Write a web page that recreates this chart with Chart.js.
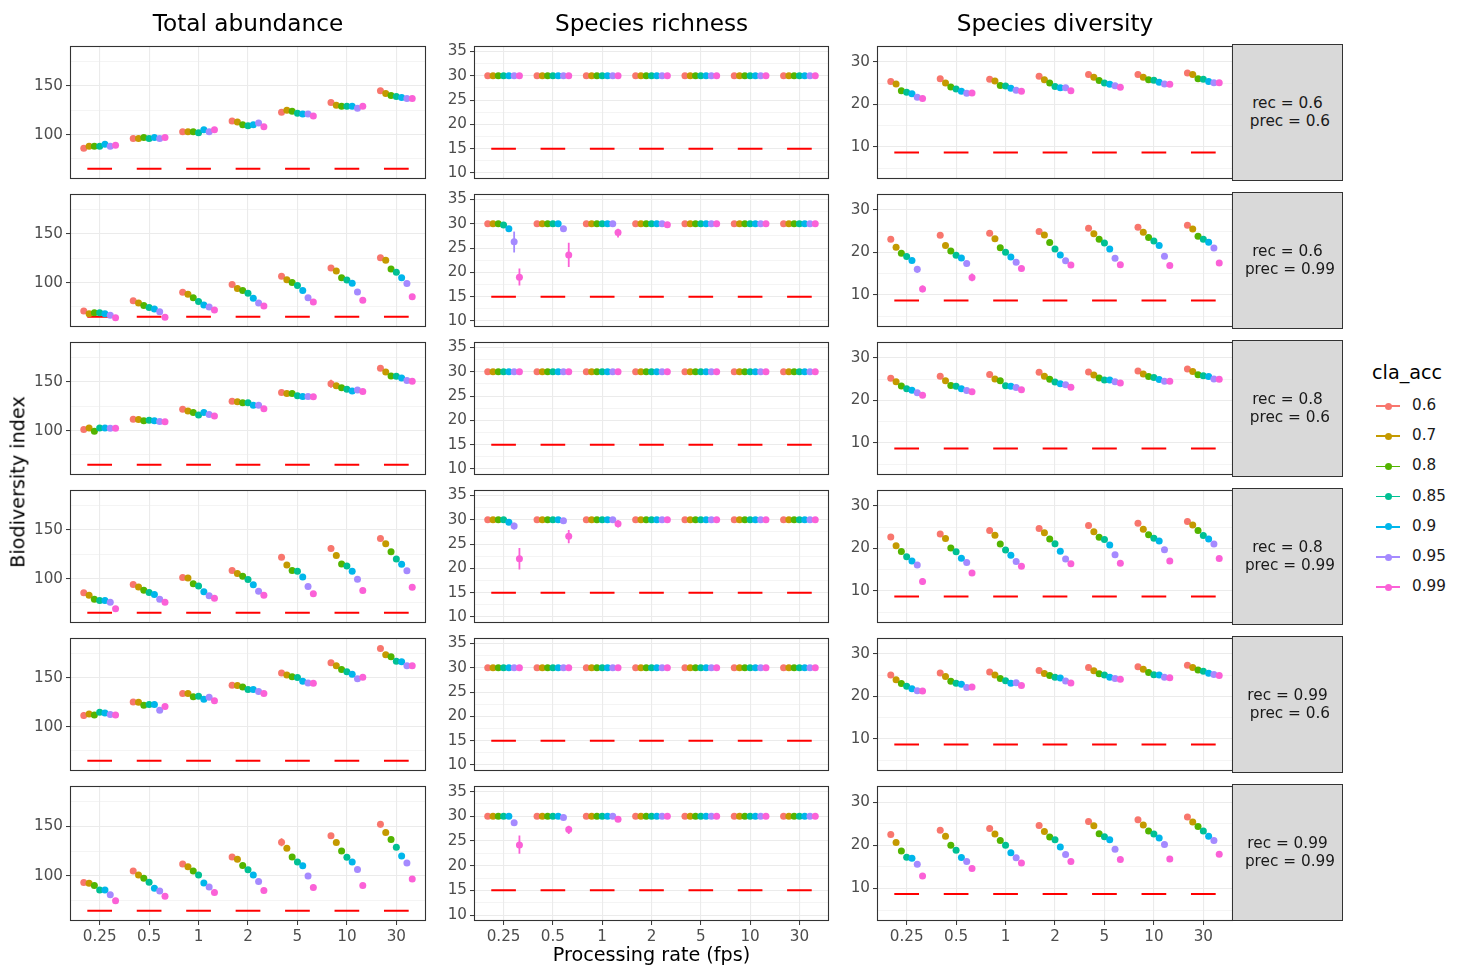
<!DOCTYPE html>
<html><head><meta charset="utf-8">
<script src="https://cdn.jsdelivr.net/npm/chart.js@4/dist/chart.umd.min.js"></script>
<style>
html,body{margin:0;padding:0;background:#fff;}
body{width:1460px;height:966px;position:relative;overflow:hidden;font-family:"DejaVu Sans",sans-serif;}
canvas{position:absolute;}
.t{position:absolute;white-space:pre;line-height:1;}
.strip{position:absolute;box-sizing:border-box;background:#D9D9D9;border:1px solid #333;display:flex;align-items:center;justify-content:center;font-size:15.3px;color:#1A1A1A;text-align:center;white-space:pre;line-height:17.5px;}
</style></head><body>
<script>
// ---------------- DATA ----------------
const rates = ['0.25','0.5','1','2','5','10','30'];
const claAcc = ['0.6','0.7','0.8','0.85','0.9','0.95','0.99'];
const recLabels  = ['0.6','0.6','0.8','0.8','0.99','0.99'];
const precLabels = ['0.6','0.99','0.6','0.99','0.6','0.99'];
const metricTitles = ['Total abundance','Species richness','Species diversity'];
const trueAbundance = 65;
const trueRichness = 15;
const trueDiversity = 8.7;
const abundanceTicks = [75,100,125,150,175];
const abundanceLabeled = [100,150];
const richnessTicks = [10,12.5,15,17.5,20,22.5,25,27.5,30,32.5,35];
const richnessLabeled = [10,15,20,25,30,35];
const diversityTicks = [5,10,15,20,25,30];
const diversityLabeled = [10,20,30];

// rows: processing rate; columns: cla_acc 0.6 .. 0.99
const abund_r06_p06 = [
 [86,88,88,88,90,88,89],
 [96,96,97,96,97,96,97],
 [103,103,103,102,105,103,105],
 [114,113,110,109,110,112,108],
 [123,125,124,122,121,121,119],
 [133,130,129,129,129,127,129],
 [145,142,140,139,138,137,137]];
const abund_r06_p099 = [
 [71,68,69,69,68,66.5,64],
 [81.5,79,76.5,74.5,73,70,64.5],
 [90,88,84.5,80.5,77,75,72],
 [98,94,92,89,84,79,76],
 [106.6,103,100,97,92,84.5,80],
 [115,112,105,102.6,99.3,90.4,82],
 [125.5,123,114,110.6,105,99,85.4]];
const abund_r08_p06 = [
 [101,102.6,99.3,102.6,102.6,102.3,102.3],
 [111.6,111.3,110,110.6,110,109.3,109],
 [122,120,118.5,116,118.5,116.5,115],
 [130,129.5,128.5,128.5,126,126,122.5],
 [139,138,138,135.7,135,135,134.8],
 [148,146,144,142.4,140.7,141.7,140],
 [164,160,156,155.6,154,151.3,150.7]];
const abund_r08_p099 = [
 [85.4,83,78.8,77.5,77.5,75.8,69],
 [94,91.4,88,85.8,83.8,78.8,75.8],
 [101,100.7,94.7,92.4,86.4,82.5,79.8],
 [108.3,105.3,102.3,99,93.7,87,83],
 [121.9,114,108.3,107.6,101.7,92,84.4],
 [130.8,123.8,115,113,107.6,99.3,87.7],
 [141,135.8,127.5,120,114.6,108,91]];
const abund_r099_p06 = [
 [111.5,113,112,114.8,114,112.5,112],
 [125.3,125,122,122.7,122.7,116.8,120.7],
 [134,134,130.6,131,128,130,126.6],
 [142.4,142,140.5,138,138,136,134],
 [155,153,151,150.3,146.4,144.7,144.4],
 [165.5,162.4,158.6,156.3,153.6,149,150.6],
 [180,173.7,171.7,167,166.4,162.5,162.5]];
const abund_r099_p099 = [
 [93.4,92.7,90.4,85.8,85.8,81,75],
 [105,101,97.7,93.7,87.7,84.8,79.5],
 [112,109.3,105,101,93,89,83.4],
 [119.2,117,110.6,106.3,101,94.4,85.4],
 [134,128,119.2,114.2,110.3,100,88.4],
 [140.7,133.8,125.2,118.9,114.2,106.6,90.4],
 [152.3,144,136.8,129,120.2,113,97]];

const rich_r06_p06 = [
 [30,30,30,30,30,30,30],[30,30,30,30,30,30,30],[30,30,30,30,30,30,30],
 [30,30,30,30,30,30,30],[30,30,30,30,30,30,30],[30,30,30,30,30,30,30],[30,30,30,30,30,30,30]];
const rich_r06_p099 = [
 [30,30,30,29.75,29.0,26.3,19.0],
 [30,30,30,30,30,29.0,23.6],
 [30,30,30,30,30,30,28.2],
 [30,30,30,30,30,30,29.8],
 [30,30,30,30,30,30,30],[30,30,30,30,30,30,30],[30,30,30,30,30,30,30]];
const rich_r08_p06 = [
 [30,30,30,30,30,30,30],[30,30,30,30,30,30,30],[30,30,30,30,30,30,30],
 [30,30,30,30,30,30,30],[30,30,30,30,30,30,30],[30,30,30,30,30,30,30],[30,30,30,30,30,30,30]];
const rich_r08_p099 = [
 [30,30,30,30,29.5,28.7,22.0],
 [30,30,30,30,30,29.8,26.6],
 [30,30,30,30,30,30,29.2],
 [30,30,30,30,30,30,30],
 [30,30,30,30,30,30,30],[30,30,30,30,30,30,30],[30,30,30,30,30,30,30]];
const rich_r099_p06 = [
 [30,30,30,30,30,30,30],[30,30,30,30,30,30,30],[30,30,30,30,30,30,30],
 [30,30,30,30,30,30,30],[30,30,30,30,30,30,30],[30,30,30,30,30,30,30],[30,30,30,30,30,30,30]];
const rich_r099_p099 = [
 [30,30,30,30,30,28.7,24.2],
 [30,30,30,30,30,29.75,27.3],
 [30,30,30,30,30,30,29.4],
 [30,30,30,30,30,30,30],
 [30,30,30,30,30,30,30],[30,30,30,30,30,30,30],[30,30,30,30,30,30,30]];

const div_r06_p06 = [
 [25.4,24.8,23.2,22.85,22.5,21.7,21.4],
 [26.0,25.05,24.1,23.6,23.1,22.6,22.7],
 [25.9,25.5,24.45,24.3,23.8,23.3,23.1],
 [26.6,25.8,25.0,24.2,23.9,23.9,23.2],
 [27.0,26.35,25.6,25.05,24.75,24.4,24.0],
 [27.0,26.4,25.8,25.7,25.2,24.8,24.75],
 [27.4,27.0,26.0,25.9,25.4,25.1,25.1]];
const div_r06_p099 = [
 [23.1,21.2,19.8,19.0,18.1,16.0,11.4],
 [24.0,21.6,20.3,19.3,18.7,17.4,14.1],
 [24.5,23.2,21.1,20.0,18.9,17.7,16.2],
 [24.9,24.1,22.3,20.8,19.35,18.0,17.0],
 [25.7,24.4,23.1,22.2,20.8,18.6,17.1],
 [25.9,24.75,23.5,22.7,21.6,19.1,16.9],
 [26.4,25.5,23.8,23.1,22.4,21.0,17.5]];
const div_r08_p06 = [
 [25.2,24.35,23.35,22.75,22.35,21.8,21.2],
 [25.65,24.6,23.5,23.3,22.75,22.3,22.05],
 [26.1,25.05,24.6,23.45,23.3,23.05,22.5],
 [26.6,25.7,24.95,24.3,23.9,23.7,23.1],
 [26.7,25.95,25.25,24.8,24.8,24.35,24.1],
 [26.9,26.2,25.6,25.35,24.9,24.5,24.5],
 [27.4,26.8,26.0,25.8,25.6,25.0,24.95]];
const div_r08_p099 = [
 [22.7,20.6,19.25,18.0,17.05,16.1,12.2],
 [23.4,22.3,20.1,19.2,17.7,16.65,14.2],
 [24.2,23.1,21.0,19.6,18.4,16.9,15.8],
 [24.7,23.7,22.2,21.1,19.3,17.5,16.4],
 [25.4,23.9,22.6,22.1,20.8,18.5,16.5],
 [25.9,24.5,23.2,22.35,21.75,19.7,17.0],
 [26.3,25.5,24.2,23.0,22.2,21.0,17.6]];
const div_r099_p06 = [
 [25.05,23.9,23.0,22.4,21.8,21.3,21.25],
 [25.5,24.7,23.55,23.1,22.85,22.1,22.2],
 [25.75,25.05,24.2,23.7,23.1,23.2,22.55],
 [26.1,25.4,24.9,24.5,24.3,23.6,23.15],
 [26.8,26.05,25.3,25.0,24.5,24.2,24.05],
 [26.95,26.4,25.6,25.1,25.0,24.5,24.35],
 [27.3,26.8,26.2,25.9,25.45,25.15,24.9]];
const div_r099_p099 = [
 [22.5,20.65,18.7,17.25,17.0,15.6,12.9],
 [23.5,22.1,20.0,18.85,17.2,16.25,14.6],
 [23.9,22.6,21.1,20.0,18.25,17.1,15.9],
 [24.6,23.2,21.9,21.3,19.6,17.85,16.25],
 [25.5,24.5,22.7,22.0,21.3,19.1,16.7],
 [25.9,24.7,23.3,22.6,21.7,20.2,16.8],
 [26.55,25.4,24.35,23.3,22.1,21.1,17.9]];

// [metricIndex, facetRow, rateIndex, claAccIndex, low, high]
const errorBars = [
 [0,2,5,0,144,152],[0,3,5,0,128,134],[0,4,0,0,108,115],[0,5,4,0,130,138],[0,5,6,0,149,155],
 [1,1,0,5,24.1,28.4],[1,1,0,6,17.3,20.8],[1,1,1,6,21.1,26.1],[1,1,2,6,27.2,29.0],
 [1,3,0,5,28.0,29.4],[1,3,0,6,19.8,24.2],[1,3,1,6,25.2,27.9],[1,3,2,6,28.4,29.9],
 [1,5,0,5,28.2,29.2],[1,5,0,6,22.4,26.1],[1,5,1,6,26.4,28.1],
 [2,1,0,5,15.2,16.8],[2,1,0,6,10.6,12.2],[2,1,1,6,13.2,15.0],
 [2,3,0,6,11.4,13.0]
];

const abundanceRows = [abund_r06_p06,abund_r06_p099,abund_r08_p06,abund_r08_p099,abund_r099_p06,abund_r099_p099];
const richnessRows  = [rich_r06_p06,rich_r06_p099,rich_r08_p06,rich_r08_p099,rich_r099_p06,rich_r099_p099];
const diversityRows = [div_r06_p06,div_r06_p099,div_r08_p06,div_r08_p099,div_r099_p06,div_r099_p099];

// ---------------- STYLE / LAYOUT ----------------
const colors = ['#F8766D','#C49A00','#53B400','#00C094','#00B6EB','#A58AFF','#FB61D7'];
const colLeft = [70, 474, 877];
const panelW = [356, 355, 356];
const rowTop = [44, 192, 340, 488, 636, 784];
const panelH = 137;
const dodgeWidth = 0.75;
const FONT = '"DejaVu Sans", sans-serif';
const TICK_SIZE = 15.2;
Chart.defaults.font.family = FONT;

const metrics = [
  {rows: abundanceRows, truth: trueAbundance, min: 54.6, max: 190.7, ticks: abundanceTicks, labeled: abundanceLabeled},
  {rows: richnessRows,  truth: trueRichness,  min: 8.8,  max: 36.1,  ticks: richnessTicks,  labeled: richnessLabeled},
  {rows: diversityRows, truth: trueDiversity, min: 2.47, max: 33.7,  ticks: diversityTicks, labeled: diversityLabeled}
];

const borderPlugin = {
  id: 'panelBorder',
  afterDatasetsDraw(chart) {
    const a = chart.chartArea, c = chart.ctx;
    c.save();
    c.strokeStyle = '#333333';
    c.lineWidth = 1.1;
    c.strokeRect(Math.round(a.left) + 0.5, Math.round(a.top) + 0.5,
                 Math.round(a.right - a.left) - 1, Math.round(a.bottom - a.top) - 1);
    c.restore();
  }
};

function dodge(s) { return (s - (claAcc.length - 1) / 2) * dodgeWidth / claAcc.length; }

function makePanel(col, row) {
  const m = metrics[col];
  const values = m.rows[row];
  const isBottom = row === rowTop.length - 1;
  const padL = 50, padT = 10, padR = 8, padB = isBottom ? 32 : 10;
  const cv = document.createElement('canvas');
  cv.width = panelW[col] + padL + padR;
  cv.height = panelH + padT + padB;
  cv.style.left = (colLeft[col] - padL) + 'px';
  cv.style.top = (rowTop[row] - padT) + 'px';
  document.body.appendChild(cv);

  const datasets = [];
  claAcc.forEach((acc, s) => {
    datasets.push({
      type: 'scatter',
      label: acc,
      data: rates.map((r, i) => ({x: i + 1 + dodge(s), y: values[i][s]})),
      pointRadius: 3.5, pointHoverRadius: 3.5,
      backgroundColor: colors[s], borderWidth: 0, pointBorderWidth: 0,
      order: claAcc.length - s
    });
    const errData = [];
    errorBars.filter(e => e[0] === col && e[1] === row && e[3] === s).forEach(e => {
      const x = e[2] + 1 + dodge(s);
      errData.push({x: x, y: e[4]}, {x: x, y: e[5]}, {x: x, y: null});
    });
    if (errData.length) {
      datasets.push({
        type: 'line', data: errData, borderColor: colors[s], borderWidth: 1.8,
        pointRadius: 0, spanGaps: false, order: 20 + claAcc.length - s
      });
    }
  });
  const truthData = [];
  rates.forEach((r, i) => {
    truthData.push({x: i + 1 - 0.25, y: m.truth}, {x: i + 1 + 0.25, y: m.truth}, {x: i + 1 + 0.25, y: null});
  });
  datasets.push({type: 'line', data: truthData, borderColor: '#FF0000', borderWidth: 2,
    pointRadius: 0, spanGaps: false, order: 100});

  new Chart(cv, {
    type: 'scatter',
    data: {datasets},
    plugins: [borderPlugin],
    options: {
      responsive: false, animation: false, events: [],
      layout: {padding: {left: 0, top: padT, right: padR, bottom: isBottom ? 4 : padB}},
      plugins: {legend: {display: false}, tooltip: {enabled: false}},
      scales: {
        x: {
          type: 'linear', min: 0.4, max: 7.6,
          afterBuildTicks: sc => { sc.ticks = rates.map((r, i) => ({value: i + 1})); },
          afterFit: sc => { sc.height = isBottom ? 28 : 0; },
          border: {display: false},
          grid: {color: '#EBEBEB', lineWidth: 1.1, drawTicks: isBottom, tickLength: 4,
                 tickColor: '#333333', tickWidth: 1},
          ticks: {display: isBottom, autoSkip: false, maxRotation: 0, padding: 3,
                  color: '#4D4D4D', font: {size: TICK_SIZE, family: FONT},
                  callback: v => rates[Math.round(v) - 1]}
        },
        y: {
          type: 'linear', min: m.min, max: m.max,
          afterBuildTicks: sc => { sc.ticks = m.ticks.map(v => ({value: v})); },
          afterFit: sc => { sc.width = padL; },
          border: {display: false},
          grid: {
            color: '#EBEBEB',
            lineWidth: ctx => (ctx.tick && m.labeled.includes(ctx.tick.value)) ? 1.1 : 0.55,
            drawTicks: true, tickLength: 4, tickWidth: 1,
            tickColor: ctx => (ctx.tick && m.labeled.includes(ctx.tick.value)) ? '#333333' : 'rgba(0,0,0,0)'
          },
          ticks: {autoSkip: false, padding: 3, color: '#4D4D4D', font: {size: TICK_SIZE, family: FONT},
                  callback: v => m.labeled.includes(v) ? String(v) : ''}
        }
      }
    }
  });
}

for (let col = 0; col < 3; col++) for (let row = 0; row < 6; row++) makePanel(col, row);

// ---------------- TEXT ----------------
function addText(txt, x, y, size, color, extra) {
  const d = document.createElement('div');
  d.className = 't';
  d.textContent = txt;
  d.style.fontSize = size + 'px';
  d.style.color = color;
  d.style.left = x + 'px';
  d.style.top = y + 'px';
  if (extra) Object.assign(d.style, extra);
  document.body.appendChild(d);
  return d;
}
metricTitles.forEach((t, c) => {
  addText(t, colLeft[c] + panelW[c] / 2, 23, 23.2, '#000', {transform: 'translate(-50%,-50%)'});
});
addText('Processing rate (fps)', colLeft[1] + panelW[1] / 2, 955, 19.2, '#000', {transform: 'translate(-50%,-50%)'});
addText('Biodiversity index', 18, 482, 19.2, '#000', {transform: 'translate(-50%,-50%) rotate(-90deg)'});

// strips
recLabels.forEach((rec, r) => {
  const d = document.createElement('div');
  d.className = 'strip';
  d.style.left = (colLeft[2] + panelW[2] - 1) + 'px';
  d.style.top = rowTop[r] + 'px';
  d.style.width = '111px';
  d.style.height = panelH + 'px';
  d.textContent = 'rec = ' + rec + '\n prec = ' + precLabels[r];
  document.body.appendChild(d);
});

// legend
addText('cla_acc', 1372, 373, 19.2, '#000', {transform: 'translateY(-50%)'});
claAcc.forEach((acc, s) => {
  const y = 406 + s * 30.2;
  const line = document.createElement('div');
  Object.assign(line.style, {position: 'absolute', left: '1376px', top: (y - 0.9) + 'px', width: '24px', height: '1.8px', background: colors[s]});
  document.body.appendChild(line);
  const dot = document.createElement('div');
  Object.assign(dot.style, {position: 'absolute', left: (1388 - 3.5) + 'px', top: (y - 3.5) + 'px', width: '7px', height: '7px', borderRadius: '50%', background: colors[s]});
  document.body.appendChild(dot);
  addText(acc, 1412, y, TICK_SIZE, '#1A1A1A', {transform: 'translateY(-50%)'});
});
</script>
</body></html>
